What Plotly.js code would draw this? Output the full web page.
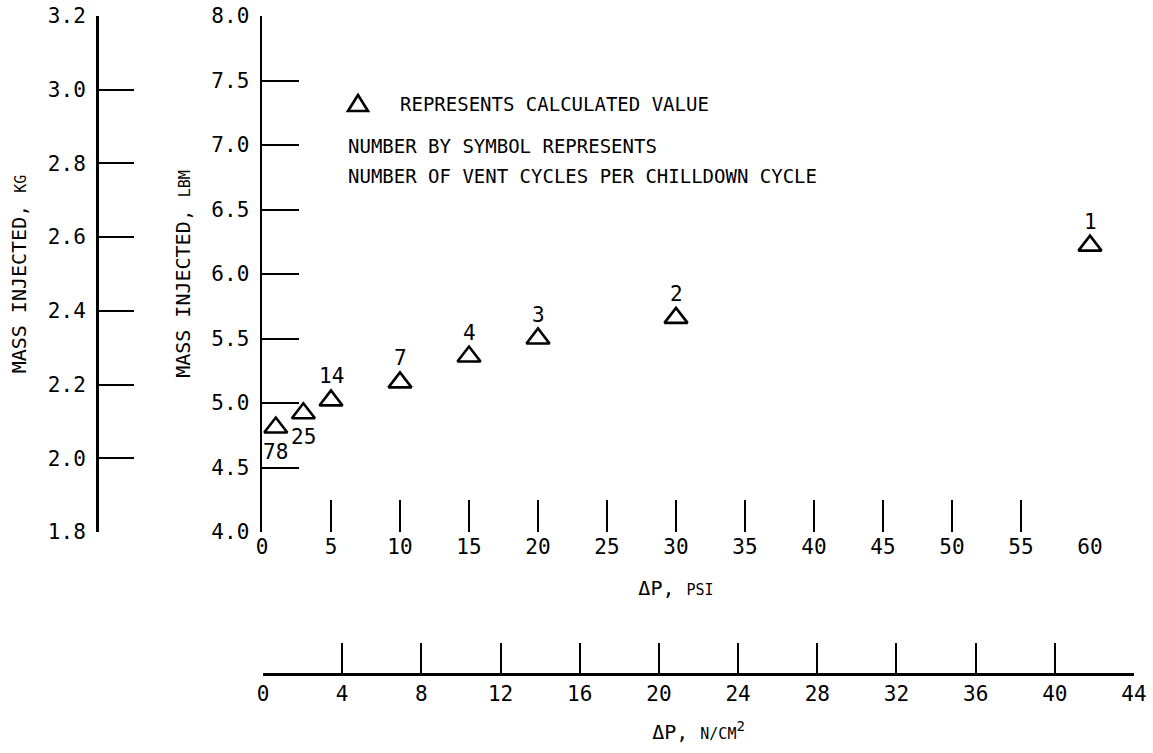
<!DOCTYPE html>
<html>
<head>
<meta charset="utf-8">
<script src="https://cdn.plot.ly/plotly-3.0.1.min.js"></script>
<style>html,body{margin:0;padding:0;background:#fff}#chart{width:1153px;height:753px}</style>
</head>
<body>
<div id="chart"></div>
<script>
// ---- data ----
const psi = [1, 3, 5, 10, 15, 20, 30, 60];
const massLbm = [4.81, 4.92, 5.02, 5.16, 5.36, 5.50, 5.66, 6.22];
const ventCycles = ['78', '25', '14', '7', '4', '3', '2', '1'];

const psiTicks = [0, 5, 10, 15, 20, 25, 30, 35, 40, 45, 50, 55, 60];
const lbmTicks = [4.0, 4.5, 5.0, 5.5, 6.0, 6.5, 7.0, 7.5, 8.0];
const lbmTickText = ['4.0', '4.5', '5.0', '5.5', '6.0', '6.5', '7.0', '7.5', '8.0'];
const kgTicks = [1.8, 2.0, 2.2, 2.4, 2.6, 2.8, 3.0, 3.2];
const kgTickText = ['1.8', '2.0', '2.2', '2.4', '2.6', '2.8', '3.0', '3.2'];
const ncmTicks = [0, 4, 8, 12, 16, 20, 24, 28, 32, 36, 40, 44];

const legendLines = ['REPRESENTS CALCULATED VALUE', 'NUMBER BY SYMBOL REPRESENTS', 'NUMBER OF VENT CYCLES PER CHILLDOWN CYCLE'];

// ---- styling ----
const W = 1153, H = 753;
const FONT = 'DejaVu Sans Mono, monospace';
const px = v => v / W;
const py = v => 1 - v / H;
const belowLabel = new Set(['78', '25']);

const traces = [
  {
    type: 'scatter', mode: 'markers', x: psi, y: massLbm, xaxis: 'x', yaxis: 'y',
    cliponaxis: false,
    marker: {symbol: 'triangle-up-open', size: 20, color: '#000', line: {width: 2.6, color: '#000'}},
    hoverinfo: 'x+y', showlegend: false
  },
  {type: 'scatter', mode: 'markers', x: [null], y: [null], xaxis: 'x', yaxis: 'y2', showlegend: false, hoverinfo: 'skip'},
  {type: 'scatter', mode: 'markers', x: [null], y: [null], xaxis: 'x2', yaxis: 'y3', showlegend: false, hoverinfo: 'skip'}
];

const annotations = psi.map((p, i) => ({
  x: p, y: massLbm[i], xref: 'x', yref: 'y', text: ventCycles[i], showarrow: false,
  yshift: belowLabel.has(ventCycles[i]) ? -24 : 24,
  font: {family: FONT, size: 21, color: '#000'}
}));

const legendY = [104, 146, 176];
const legendX = [398, 346, 346];
legendLines.forEach((t, i) => annotations.push({
  x: px(legendX[i]), y: py(legendY[i]), xref: 'paper', yref: 'paper', xanchor: 'left', yanchor: 'middle',
  text: t, showarrow: false, font: {family: FONT, size: 19, color: '#000'}
}));

// legend key triangle (paper coordinates)
const kx = 358, ky = 103, kw = 10, kh = 8;
const keyPath = `M ${px(kx - kw)} ${py(ky + kh)} L ${px(kx + kw)} ${py(ky + kh)} L ${px(kx)} ${py(ky - kh)} Z`;

const axBase = {
  showgrid: false, zeroline: false, color: '#000', linecolor: '#000', tickcolor: '#000',
  tickfont: {family: FONT, size: 21, color: '#000'}, fixedrange: true
};

const layout = {
  width: W, height: H,
  margin: {l: 0, r: 0, t: 0, b: 0, autoexpand: false},
  paper_bgcolor: '#fff', plot_bgcolor: 'rgba(0,0,0,0)',
  showlegend: false,
  xaxis: Object.assign({}, axBase, {
    domain: [px(262), px(1090)], range: [0, 60], anchor: 'y',
    tickmode: 'array', tickvals: psiTicks, ticktext: psiTicks.map(String),
    ticks: 'inside', ticklen: 32, tickwidth: 2, showline: false,
    title: {text: '\u0394P, <span style="font-size:15px">PSI</span>', standoff: 22,
            font: {family: FONT, size: 20, color: '#000'}}
  }),
  yaxis: Object.assign({}, axBase, {
    domain: [py(532), py(16)], range: [4, 8], anchor: 'x',
    tickmode: 'array', tickvals: lbmTicks, ticktext: lbmTickText,
    ticks: 'inside', ticklen: 37, tickwidth: 2, showline: true, linewidth: 2.5,
    ticklabelstandoff: 6,
    title: {text: 'MASS INJECTED, <span style="font-size:15px">LBM</span>', standoff: 16,
            font: {family: FONT, size: 20, color: '#000'}}
  }),
  yaxis2: Object.assign({}, axBase, {
    overlaying: 'y', anchor: 'free', position: px(97), side: 'left', range: [1.8, 3.2],
    tickmode: 'array', tickvals: kgTicks, ticktext: kgTickText,
    ticks: 'inside', ticklen: 35, tickwidth: 2, showline: true, linewidth: 2.5,
    ticklabelstandoff: 6,
    title: {text: 'MASS INJECTED, <span style="font-size:15px">KG</span>', standoff: 15,
            font: {family: FONT, size: 20, color: '#000'}}
  }),
  xaxis2: Object.assign({}, axBase, {
    domain: [px(263), px(1134)], range: [0, 44], anchor: 'y3',
    tickmode: 'array', tickvals: ncmTicks, ticktext: ncmTicks.map(String),
    ticks: 'inside', ticklen: 30, tickwidth: 2, showline: true, linewidth: 2.5,
    title: {text: '\u0394P, <span style="font-size:15px">N/CM</span><sup>2</sup>', standoff: 21,
            font: {family: FONT, size: 20, color: '#000'}}
  }),
  yaxis3: {domain: [py(673), py(640)], range: [0, 1], visible: false, anchor: 'x2', fixedrange: true},
  shapes: [{type: 'path', xref: 'paper', yref: 'paper', path: keyPath, line: {color: '#000', width: 2.6}}],
  annotations: annotations
};

Plotly.newPlot('chart', traces, layout, {staticPlot: true, displayModeBar: false});
</script>
</body>
</html>
